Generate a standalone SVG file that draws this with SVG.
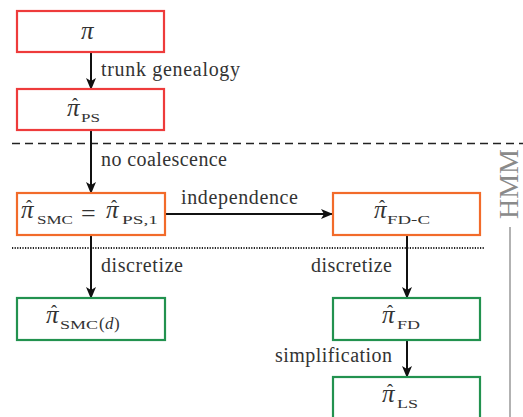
<svg xmlns="http://www.w3.org/2000/svg" width="523" height="417" viewBox="0 0 523 417">
<defs>
<marker id="ah" viewBox="0 0 12 10" refX="11" refY="5" markerWidth="12" markerHeight="10" markerUnits="userSpaceOnUse" orient="auto">
<path d="M0,0 L12,5 L0,10 L3,5 Z" fill="#111"/>
</marker>
</defs>
<style>
.box{fill:#fff;stroke-width:2.2}
.red{stroke:#ee3b3b}
.org{stroke:#f26b2a}
.grn{stroke:#22924f}
text{font-family:'Liberation Serif',serif;fill:#333}
.lbl{font-size:20px}
.m{font-size:25px}
.pi{font-style:italic;font-size:25px}
.hat{font-size:18px;font-style:normal}
.sub{font-size:13.5px;font-style:normal}
.eq{font-size:26px}
.edge{stroke:#111;stroke-width:2;fill:none;marker-end:url(#ah)}
</style>
<rect width="523" height="417" fill="#fff"/>
<line x1="12" y1="143.5" x2="523" y2="143.5" stroke="#222" stroke-width="1.6" stroke-dasharray="8,5"/>
<line x1="12" y1="248" x2="484" y2="248" stroke="#222" stroke-width="2" stroke-dasharray="1.2,1.4"/>
<line x1="510" y1="227" x2="510" y2="417" stroke="#999" stroke-width="1.5"/>
<text x="0" y="0" transform="translate(518,184) rotate(-90)" text-anchor="middle" font-size="28" style="fill:#8a8a8a">HMM</text>
<g id="connectors">
<line class="edge" x1="91" y1="52" x2="91" y2="89"/>
<line class="edge" x1="91" y1="130" x2="91" y2="193"/>
<line class="edge" x1="165" y1="214" x2="332" y2="214"/>
<line class="edge" x1="91" y1="235" x2="91" y2="298"/>
<line class="edge" x1="407" y1="235" x2="407" y2="298"/>
<line class="edge" x1="407" y1="340" x2="407" y2="377"/>
<text class="lbl" x="101" y="76" textLength="139">trunk genealogy</text>
<text class="lbl" x="101" y="166" textLength="126">no coalescence</text>
<text class="lbl" x="181" y="204" textLength="117">independence</text>
<text class="lbl" x="101" y="272" textLength="82">discretize</text>
<text class="lbl" x="311" y="272" textLength="81">discretize</text>
<text class="lbl" x="275" y="362" textLength="117">simplification</text>
</g>
<g id="pi">
<rect class="box red" x="17" y="11" width="147" height="41"/>
<text class="pi" x="81" y="39">π</text>
</g>
<g id="pi_ps">
<rect class="box red" x="17" y="89" width="147" height="41"/>
<text class="m"><tspan class="pi" x="67" y="116">π</tspan><tspan class="hat" x="72" y="111">ˆ</tspan><tspan class="sub" x="81" y="122" textLength="19" lengthAdjust="spacingAndGlyphs">PS</tspan></text>
</g>
<g id="pi_smc">
<rect class="box org" x="17" y="193" width="148" height="42"/>
<text class="m"><tspan class="pi" x="21" y="218">π</tspan><tspan class="hat" x="26" y="213">ˆ</tspan><tspan class="sub" x="37" y="224" textLength="36" lengthAdjust="spacingAndGlyphs">SMC</tspan><tspan class="eq" x="81" y="222">=</tspan><tspan class="pi" x="106" y="218">π</tspan><tspan class="hat" x="111" y="213">ˆ</tspan><tspan class="sub" x="122" y="224" textLength="36" lengthAdjust="spacingAndGlyphs">PS,1</tspan></text>
</g>
<g id="pi_fdc">
<rect class="box org" x="333" y="193" width="147" height="42"/>
<text class="m"><tspan class="pi" x="374" y="218">π</tspan><tspan class="hat" x="379" y="213">ˆ</tspan><tspan class="sub" x="387" y="224" textLength="43" lengthAdjust="spacingAndGlyphs">FD-C</tspan></text>
</g>
<g id="pi_smcd">
<rect class="box grn" x="17" y="298" width="148" height="42"/>
<text class="m"><tspan class="pi" x="46" y="323">π</tspan><tspan class="hat" x="51" y="318">ˆ</tspan><tspan class="sub" x="60" y="329" textLength="38" lengthAdjust="spacingAndGlyphs">SMC</tspan><tspan class="sub" x="99" y="329" style="font-size:17px">(</tspan><tspan class="pi" x="105" y="329" style="font-size:17px">d</tspan><tspan class="sub" x="114" y="329" style="font-size:17px">)</tspan></text>
</g>
<g id="pi_fd">
<rect class="box grn" x="333" y="298" width="147" height="42"/>
<text class="m"><tspan class="pi" x="382" y="323">π</tspan><tspan class="hat" x="387" y="318">ˆ</tspan><tspan class="sub" x="397" y="329" textLength="23" lengthAdjust="spacingAndGlyphs">FD</tspan></text>
</g>
<g id="pi_ls">
<rect class="box grn" x="333" y="377" width="147" height="42"/>
<text class="m"><tspan class="pi" x="382" y="402">π</tspan><tspan class="hat" x="387" y="397">ˆ</tspan><tspan class="sub" x="397" y="408" textLength="21" lengthAdjust="spacingAndGlyphs">LS</tspan></text>
</g>
</svg>
